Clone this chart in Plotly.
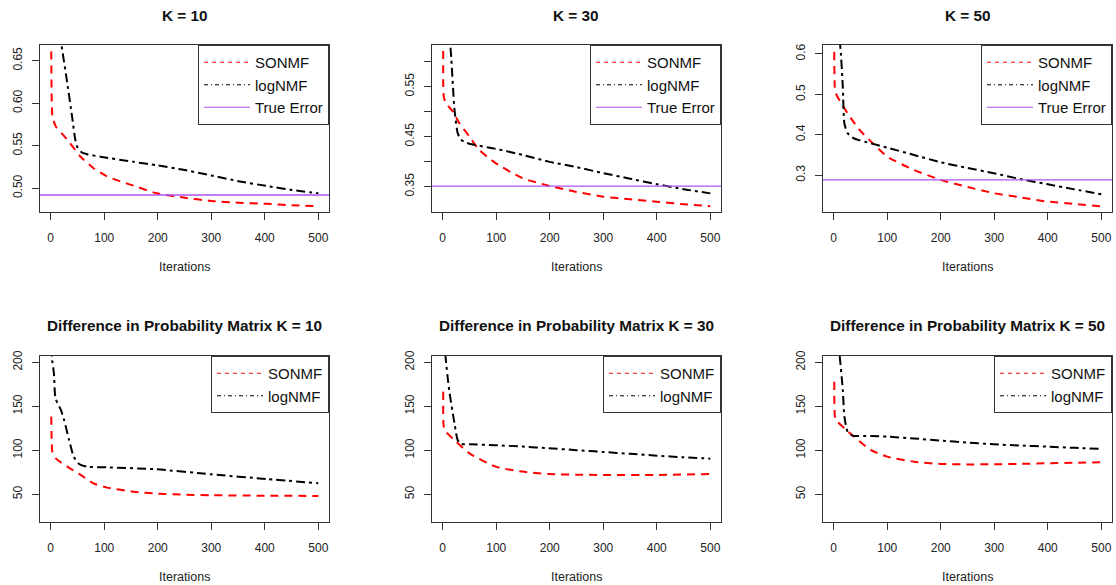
import plotly.graph_objects as go

# ---- data ----
# K = 10, reconstruction error
k10_son_x = [1, 2, 3, 5, 10, 20, 31, 56, 80, 105, 130, 155, 198, 248, 300, 350, 403, 450, 500]
k10_son_y = [0.661, 0.600, 0.586, 0.580, 0.572, 0.565, 0.557, 0.537, 0.5235, 0.514, 0.508, 0.503,
             0.494, 0.489, 0.485, 0.483, 0.4816, 0.480, 0.479]
k10_log_x = [1, 10, 20, 31, 40, 46, 50, 58, 68, 93, 155, 198, 248, 300, 353, 403, 450, 500]
k10_log_y = [0.76, 0.71, 0.669, 0.6235, 0.584, 0.557, 0.548, 0.542, 0.540, 0.537, 0.531, 0.527,
             0.5216, 0.515, 0.508, 0.5027, 0.498, 0.494]
k10_true = 0.492

# K = 30
k30_son_x = [1, 2, 6, 19, 31, 50, 68, 99, 149, 198, 248, 300, 350, 400, 450, 500]
k30_son_y = [0.621, 0.53, 0.517, 0.50, 0.477, 0.45, 0.4236, 0.397, 0.367, 0.352, 0.340, 0.330,
             0.325, 0.320, 0.315, 0.311]
k30_log_x = [1, 8, 14, 22, 28, 34, 42, 50, 99, 149, 198, 250, 300, 350, 400, 450, 500]
k30_log_y = [0.72, 0.67, 0.634, 0.504, 0.457, 0.444, 0.439, 0.4356, 0.4256, 0.4135, 0.400, 0.389,
             0.377, 0.366, 0.355, 0.345, 0.3366]
k30_true = 0.351

# K = 50
k50_son_x = [1, 2, 4, 14, 32, 51, 73, 100, 150, 200, 250, 299, 350, 398, 450, 500]
k50_son_y = [0.605, 0.519, 0.502, 0.478, 0.441, 0.408, 0.379, 0.346, 0.313, 0.2885, 0.271, 0.2556,
             0.245, 0.235, 0.229, 0.223]
k50_log_x = [1, 6, 12, 17, 20, 26, 38, 69, 100, 150, 200, 250, 299, 350, 398, 450, 500]
k50_log_y = [0.70, 0.66, 0.622, 0.519, 0.428, 0.404, 0.391, 0.379, 0.368, 0.350, 0.332, 0.318,
             0.305, 0.290, 0.278, 0.265, 0.253]
k50_true = 0.2885

# difference in probability matrix
d10_son_x = [1, 2, 3, 9, 31, 56, 80, 105, 155, 198, 250, 300, 400, 500]
d10_son_y = [138.3, 108, 98.5, 91, 81.4, 72, 62.5, 57.6, 53, 50.8, 49.5, 48.9, 48.4, 48.1]
d10_log_x = [1, 2, 6, 9, 19, 25, 34, 43, 53, 68, 105, 198, 300, 403, 500]
d10_log_y = [225, 206, 187.5, 159, 146, 134.5, 112.5, 92.8, 84.5, 81.4, 80.7, 78.4, 72.7, 67.4, 62.5]

d30_son_x = [1, 2, 6, 25, 50, 99, 149, 198, 250, 300, 400, 500]
d30_son_y = [166.7, 126.9, 121.2, 109.8, 96.6, 81.4, 75.8, 73.1, 72.3, 72, 72, 73.1]
d30_log_x = [1, 5, 12, 22, 28, 34, 50, 99, 149, 198, 250, 300, 350, 400, 450, 500]
d30_log_y = [240, 208, 168.6, 130.7, 111.7, 107.2, 106.8, 105.8, 104.2, 102.3, 100.2, 98.1, 96,
             93.9, 92.1, 90.5]

d50_son_x = [1, 2, 4, 20, 38, 69, 100, 150, 200, 250, 299, 350, 398, 450, 500]
d50_son_y = [178, 140, 134.5, 125, 115.5, 100.4, 92.8, 87.1, 84.5, 84, 84.1, 84.6, 85.2, 85.8, 86.4]
d50_log_x = [1, 6, 11, 17, 20, 26, 35, 69, 100, 150, 200, 250, 299, 350, 398, 450, 500]
d50_log_y = [260, 230, 208, 168.6, 138.3, 121.2, 116.7, 116.3, 115.5, 113.5, 111, 108.8, 106.8,
             105.4, 104.2, 102.8, 101.5]

top_titles = ["K = 10", "K = 30", "K = 50"]
bottom_titles = ["Difference in Probability Matrix K = 10",
                 "Difference in Probability Matrix K = 30",
                 "Difference in Probability Matrix K = 50"]

# ---- layout geometry (pixels of 1116 x 585 window) ----
W, H = 1116, 585
col_px = [(40, 329), (432, 721), (823, 1112)]
row_px = [(45, 212), (356, 522)]
FONT = "Arial, Liberation Sans, sans-serif"
SON_DASH = "8px,6px"
LOG_DASH = "3px,4px,9px,4px"
TRUE_COL = "#B050F0"

panels = [
    (k10_son_x, k10_son_y, k10_log_x, k10_log_y, k10_true, [0.472, 0.6685],
     [0.50, 0.55, 0.60, 0.65], ["0.50", "0.55", "0.60", "0.65"]),
    (k30_son_x, k30_son_y, k30_log_x, k30_log_y, k30_true, [0.2994, 0.633],
     [0.35, 0.40, 0.45, 0.50, 0.55, 0.60], ["0.35", "", "0.45", "", "0.55", ""]),
    (k50_son_x, k50_son_y, k50_log_x, k50_log_y, k50_true, [0.209, 0.622],
     [0.3, 0.4, 0.5, 0.6], ["0.3", "0.4", "0.5", "0.6"]),
    (d10_son_x, d10_son_y, d10_log_x, d10_log_y, None, [18.5, 207.2],
     [50, 100, 150, 200], ["50", "100", "150", "200"]),
    (d30_son_x, d30_son_y, d30_log_x, d30_log_y, None, [18.5, 207.2],
     [50, 100, 150, 200], ["50", "100", "150", "200"]),
    (d50_son_x, d50_son_y, d50_log_x, d50_log_y, None, [18.5, 207.2],
     [50, 100, 150, 200], ["50", "100", "150", "200"]),
]

fig = go.Figure()
layout = dict(width=W, height=H, margin=dict(l=0, r=0, t=0, b=0, autoexpand=False),
              paper_bgcolor="white", plot_bgcolor="white",
              font=dict(family=FONT, size=12, color="#222"), annotations=[])

for i, (sx, sy, lx, ly, true_err, yr, tv, tt) in enumerate(panels):
    n = i + 1
    r, c = divmod(i, 3)
    x0, x1 = col_px[c]
    y0, y1 = row_px[r]
    xd = [x0 / W, x1 / W]
    yd = [1 - y1 / H, 1 - y0 / H]
    xa = "x" if n == 1 else f"x{n}"
    ya = "y" if n == 1 else f"y{n}"
    leg = "legend" if n == 1 else f"legend{n}"

    # plotted curves (thick), legend gets thin samples like R's legend()
    fig.add_trace(go.Scatter(x=sx, y=sy, mode="lines", xaxis=xa, yaxis=ya, showlegend=False,
                             line=dict(color="red", width=2, dash=SON_DASH,
                                       shape="spline", smoothing=0.6)))
    fig.add_trace(go.Scatter(x=lx, y=ly, mode="lines", xaxis=xa, yaxis=ya, showlegend=False,
                             line=dict(color="black", width=2, dash=LOG_DASH,
                                       shape="spline", smoothing=0.6)))
    if true_err is not None:
        fig.add_shape(type="line", xref=f"{xa} domain", yref=ya, x0=0, x1=1,
                      y0=true_err, y1=true_err, line=dict(color=TRUE_COL, width=1.3))

    entries = [("SONMF", "red", "4px,4px"), ("logNMF", "black", "4px,3px,1px,3px")]
    if true_err is not None:
        entries.append(("True Error", TRUE_COL, "solid"))
    for name, col, dash in entries:
        fig.add_trace(go.Scatter(x=[None], y=[None], mode="lines", name=name, xaxis=xa,
                                 yaxis=ya, legend=leg,
                                 line=dict(color=col, width=1, dash=dash)))

    axis_common = dict(showgrid=False, zeroline=False, showline=True, mirror=True,
                       linecolor="#333", linewidth=1, ticks="outside", ticklen=7,
                       tickcolor="#333", automargin=False,
                       tickfont=dict(size=12, color="#222", family=FONT))
    layout["xaxis" if n == 1 else f"xaxis{n}"] = dict(
        domain=xd, range=[-20, 520], tickvals=[0, 100, 200, 300, 400, 500],
        anchor=ya, ticklabelstandoff=8, **axis_common)
    layout["yaxis" if n == 1 else f"yaxis{n}"] = dict(
        domain=yd, range=yr, tickvals=tv, ticktext=tt, tickangle=-90,
        anchor=xa, ticklabelstandoff=5, **axis_common)
    layout[leg] = dict(x=xd[1], y=yd[1], xanchor="right", yanchor="top",
                       bgcolor="white", bordercolor="#333", borderwidth=1,
                       font=dict(size=15, family=FONT, color="#111"),
                       tracegroupgap=0, itemwidth=46)

    title = top_titles[c] if r == 0 else bottom_titles[c]
    ty = 15 if r == 0 else 325
    layout["annotations"].append(dict(
        text=f"<b>{title}</b>", x=(xd[0] + xd[1]) / 2, y=1 - ty / H, xref="paper", yref="paper",
        showarrow=False, xanchor="center", yanchor="middle",
        font=dict(size=15.3, family=FONT, color="#111")))
    ly_px = 267 if r == 0 else 577
    layout["annotations"].append(dict(
        text="Iterations", x=(xd[0] + xd[1]) / 2, y=1 - ly_px / H, xref="paper", yref="paper",
        showarrow=False, xanchor="center", yanchor="middle",
        font=dict(size=12.5, family=FONT, color="#222")))

fig.update_layout(**layout)
fig.write_html("out.html", config={"displayModeBar": False},
               post_script="document.body.style.margin='0';document.body.style.overflow='hidden';")
